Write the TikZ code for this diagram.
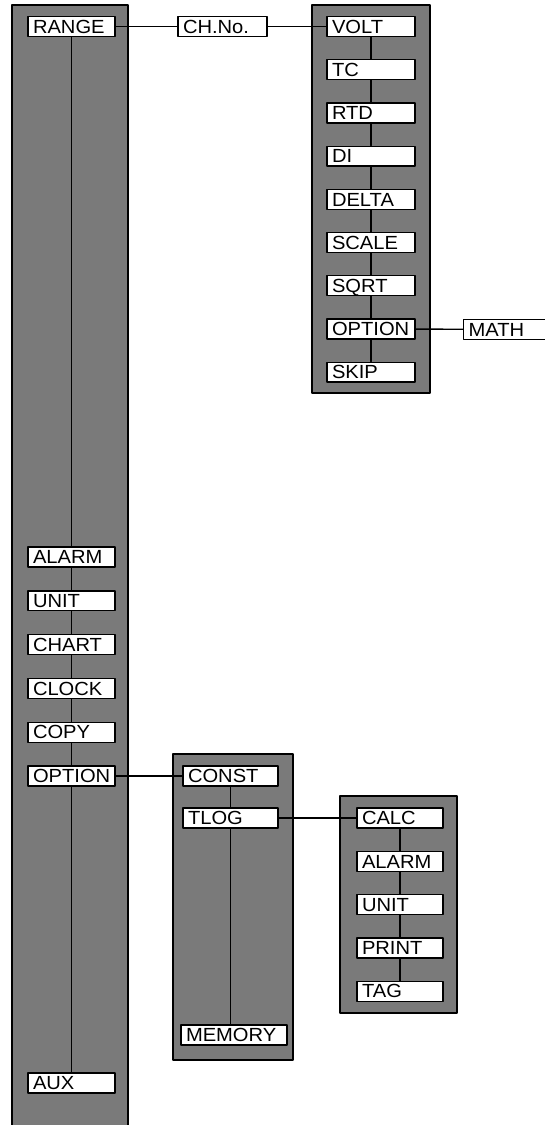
\documentclass[tikz,border=0pt]{standalone}
\usepackage{fontspec}
\setmainfont{Liberation Sans}[FakeStretch=1.06]
\hyphenpenalty=10000
\exhyphenpenalty=10000

\begin{document}
\begin{tikzpicture}[x=1pt,y=-1pt,line cap=round,line join=round,
  panel/.style={fill=black!52,draw=black,line width=1.4pt},
  item/.style={draw=black,fill=white,line width=1.3pt,text width=#1,inner xsep=5pt,
    inner ysep=3.2pt,text height=13.5pt,text depth=0pt,align=left,
    font=\fontsize{19}{19}\selectfont},
  item/.default=77pt,
  link/.style={draw=black,line width=1.4pt}]
  \useasboundingbox (0,0) rectangle (544,1125);
  % shaded panels
  \draw[panel] (12,5) rectangle (128,1135);
  \draw[panel] (312,5) rectangle (430,393);
  \draw[panel] (173,754) rectangle (293,1060);
  \draw[panel] (340,796) rectangle (457,1013);
  % main column
  \node[item] (range) at (71.5,26.5) {RANGE};
  \foreach \name/\lbl [count=\i] in {alarm/ALARM,unit/UNIT,chart/CHART,clock/CLOCK,copy/COPY,opt/OPTION} {
    \node[item] (\name) at (71.5,{557+(\i-1)*43.8}) {\lbl};
  }
  \node[item] (aux) at (71.5,1083) {AUX};
  \foreach \a/\b in {range/alarm,alarm/unit,unit/chart,chart/clock,clock/copy,copy/opt,opt/aux} {
    \draw[link] (\a) -- (\b);
  }
  % channel and range types
  \node[item=79pt] (chno) at (222.5,26.5) {CH.No.};
  \foreach \name/\lbl [count=\i] in {volt/VOLT,tc/TC,rtd/RTD,di/DI,delta/DELTA,scale/SCALE,sqrt/SQRT,ropt/OPTION,skip/SKIP} {
    \node[item=78pt] (\name) at (371,{26.5+(\i-1)*43.2}) {\lbl};
  }
  \foreach \a/\b in {volt/tc,tc/rtd,rtd/di,di/delta,delta/scale,scale/sqrt,sqrt/ropt,ropt/skip} {
    \draw[link] (\a) -- (\b);
  }
  \node[item=100pt,anchor=west] (math) at (463,329.5) {MATH};
  \draw[link] (range) -- (chno);
  \draw[link] (chno) -- (volt);
  \draw[link] (ropt) -- (math);
  % option branch
  \node[item=85pt] (const) at (230.5,776) {CONST};
  \node[item=85pt] (tlog) at (230.5,818) {TLOG};
  \node[item=96pt] (memory) at (234,1035) {MEMORY};
  \draw[link] (opt) -- (const);
  \draw[link] (const) -- (tlog);
  \draw[link] (tlog.south) -- (tlog.south |- memory.north);
  \foreach \name/\lbl [count=\i] in {calc/CALC,talarm/ALARM,tunit/UNIT,print/PRINT,tag/TAG} {
    \node[item=76pt] (\name) at (400,{818+(\i-1)*43.3}) {\lbl};
  }
  \foreach \a/\b in {calc/talarm,talarm/tunit,tunit/print,print/tag} {
    \draw[link] (\a) -- (\b);
  }
  \draw[link] (tlog) -- (calc);
\end{tikzpicture}
\end{document}
